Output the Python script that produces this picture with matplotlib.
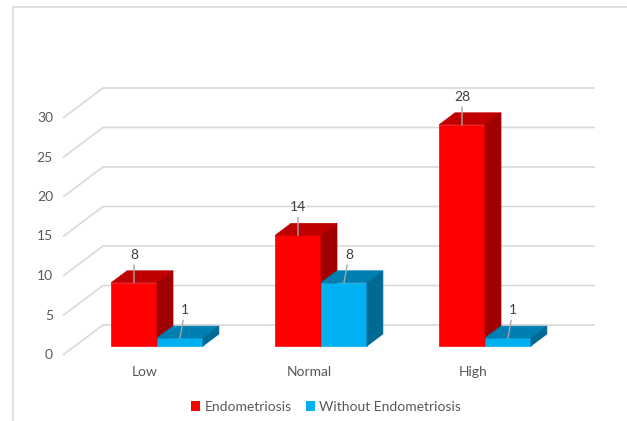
import matplotlib.pyplot as plt
from matplotlib.patches import Polygon, Patch
from matplotlib.lines import Line2D

plt.rcParams['font.family'] = ['Lato', 'DejaVu Sans']

categories = ['Low', 'Normal', 'High']
endometriosis = [8, 14, 28]
without_endometriosis = [1, 8, 1]
y_ticks = [0, 5, 10, 15, 20, 25, 30]

series = [
    ('Endometriosis', endometriosis, ('#FF0000', '#C00000', '#A00000')),
    ('Without Endometriosis', without_endometriosis, ('#00B0F0', '#0080B2', '#006A94')),
]

# oblique projection: depth z in [0, 1] shifts points right and up
DX = 40 / 164.0     # category units per full depth
DY = 30 / 7.9       # value units per full depth
GRID = '#D9D9D9'
TXT = '#595959'


def proj(x, y, z):
    return (x + z * DX, y + z * DY)


fig = plt.figure(figsize=(6.27, 4.21), dpi=100)
ax = fig.add_axes([0, 0, 1, 1])
ax.set_xlim(-63 / 164.0, (627 - 63) / 164.0)
ax.set_ylim(-(421 - 355) / 7.9, 355 / 7.9)
ax.axis('off')

# walls: back gridlines and the diagonal lines on the left side
n = len(categories)
for v in y_ticks:
    x0, y0 = proj(0, v, 0)
    x1, y1 = proj(0, v, 1)
    x2, y2 = proj(n, v, 1)
    ax.plot([x0, x1, x2], [y0, y1, y2], color=GRID, lw=1.2, zorder=1,
            solid_capstyle='butt')
    ax.text(-10 / 164.0, v, str(v), ha='right', va='center',
            fontsize=10, color=TXT)

# bars, drawn as front / top / side faces
bw = 0.28
z0, z1 = 0.3, 0.7
for i, cat in enumerate(categories):
    c = i + 0.5
    for k, (name, vals, (front, top, side)) in enumerate(series):
        v = vals[i]
        xa = c - bw + k * bw
        xb = xa + bw
        faces = [
            ([(xa, 0, z0), (xb, 0, z0), (xb, v, z0), (xa, v, z0)], front),
            ([(xa, v, z0), (xb, v, z0), (xb, v, z1), (xa, v, z1)], top),
            ([(xb, 0, z0), (xb, v, z0), (xb, v, z1), (xb, 0, z1)], side),
        ]
        for pts, col in faces:
            poly = Polygon([proj(*p) for p in pts], closed=True,
                           facecolor=col, edgecolor=col, lw=0.5, zorder=3 + k)
            ax.add_patch(poly)
        # value label with a leader line to the top front edge
        tip = proj((xa + xb) / 2, v, z0)
        ax.annotate(str(v), xy=tip, xytext=(5 * k, 22), textcoords='offset pixels',
                    ha='center', va='bottom', fontsize=10, color='#404040',
                    arrowprops=dict(arrowstyle='-', color='#A6A6A6', lw=1,
                                    shrinkA=1, shrinkB=0),
                    zorder=10)
    ax.text(c, -(372 - 355) / 7.9, cat, ha='center', va='center',
            fontsize=10, color=TXT)

handles = [Patch(facecolor=s[2][0], edgecolor='none') for s in series]
fig.legend(handles, [s[0] for s in series], loc='center',
           bbox_to_anchor=(0.52, 1 - 407 / 421.0), ncol=2, frameon=False,
           fontsize=10, handlelength=0.7, handleheight=0.7, handletextpad=0.3,
           columnspacing=1.0, labelcolor=TXT)

# outer chart frame (top and left edges)
fig.add_artist(Line2D([13 / 627, 13 / 627, 1], [0, 1 - 7 / 421, 1 - 7 / 421],
                      color=GRID, lw=1.2, transform=fig.transFigure))

fig.savefig('out.png', dpi=100, facecolor='white')
